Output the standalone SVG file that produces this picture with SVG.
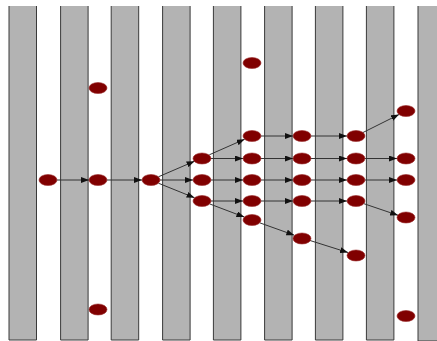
<svg xmlns="http://www.w3.org/2000/svg" width="437" height="341" viewBox="0 0 437 341">
<defs>
<style>
.stripe{fill:#b3b3b3;stroke:#3a3a3a;stroke-width:1}
.node{fill:#800000;stroke:#9a2a2a;stroke-width:0.6}
.edge{stroke:#333;stroke-width:1;fill:none;marker-end:url(#arr)}
</style>
<marker id="arr" markerUnits="userSpaceOnUse" markerWidth="8" markerHeight="6" refX="8" refY="3" orient="auto">
<path d="M0,0 L8,3 L0,6 z" fill="#111"/>
</marker>
</defs>
<rect width="437" height="341" fill="#fff"/>
<g id="stripes">
<path class="stripe" d="M9,6 V340 H36.5 V6"/>
<path class="stripe" d="M60.6,6 V340 H88.1 V6"/>
<path class="stripe" d="M111.2,6 V340 H138.7 V6"/>
<path class="stripe" d="M162.6,6 V340 H190.1 V6"/>
<path class="stripe" d="M213.4,6 V340 H240.9 V6"/>
<path class="stripe" d="M264.6,6 V340 H292.1 V6"/>
<path class="stripe" d="M315.4,6 V340 H342.9 V6"/>
<path class="stripe" d="M366.4,6 V340 H393.9 V6"/>
<path class="stripe" d="M418,6 V341 H446 V6"/>
</g>
<g id="connectors">
<line class="edge" x1="57" y1="180" x2="89" y2="180"/>
<line class="edge" x1="107" y1="180" x2="142" y2="180"/>
<line class="edge" x1="160" y1="180" x2="193" y2="180"/>
<line class="edge" x1="158.4" y1="176.8" x2="194.6" y2="161.2"/>
<line class="edge" x1="158.4" y1="183.2" x2="194.6" y2="197.8"/>
<line class="edge" x1="209.3" y1="154.8" x2="244.7" y2="139.2"/>
<line class="edge" x1="211" y1="158.5" x2="243" y2="158.5"/>
<line class="edge" x1="211" y1="180" x2="243" y2="180"/>
<line class="edge" x1="211" y1="201" x2="243" y2="201"/>
<line class="edge" x1="209.6" y1="203.9" x2="244.4" y2="217.1"/>
<line class="edge" x1="261" y1="136" x2="293" y2="136"/>
<line class="edge" x1="261" y1="158.5" x2="293" y2="158.5"/>
<line class="edge" x1="261" y1="180" x2="293" y2="180"/>
<line class="edge" x1="261" y1="201" x2="293" y2="201"/>
<line class="edge" x1="259.7" y1="222.8" x2="294.3" y2="235.2"/>
<line class="edge" x1="311" y1="136" x2="347" y2="136"/>
<line class="edge" x1="311" y1="158.5" x2="347" y2="158.5"/>
<line class="edge" x1="311" y1="180" x2="347" y2="180"/>
<line class="edge" x1="311" y1="201" x2="347" y2="201"/>
<line class="edge" x1="310" y1="240.5" x2="348" y2="252.5"/>
<line class="edge" x1="363" y1="132.5" x2="399" y2="114.5"/>
<line class="edge" x1="365" y1="158.5" x2="397" y2="158.5"/>
<line class="edge" x1="365" y1="180" x2="397" y2="180"/>
<line class="edge" x1="363.9" y1="203.7" x2="398.1" y2="215.3"/>
</g>
<g id="nodes">
<g id="n1"><ellipse class="node" cx="48" cy="180" rx="9" ry="5.5"/></g>
<g id="n2"><ellipse class="node" cx="98" cy="88" rx="9" ry="5.5"/></g>
<g id="n3"><ellipse class="node" cx="98" cy="180" rx="9" ry="5.5"/></g>
<g id="n4"><ellipse class="node" cx="98" cy="309.5" rx="9" ry="5.5"/></g>
<g id="n5"><ellipse class="node" cx="151" cy="180" rx="9" ry="5.5"/></g>
<g id="n6"><ellipse class="node" cx="202" cy="158.5" rx="9" ry="5.5"/></g>
<g id="n7"><ellipse class="node" cx="202" cy="180" rx="9" ry="5.5"/></g>
<g id="n8"><ellipse class="node" cx="202" cy="201" rx="9" ry="5.5"/></g>
<g id="n9"><ellipse class="node" cx="252" cy="63" rx="9" ry="5.5"/></g>
<g id="n10"><ellipse class="node" cx="252" cy="136" rx="9" ry="5.5"/></g>
<g id="n11"><ellipse class="node" cx="252" cy="158.5" rx="9" ry="5.5"/></g>
<g id="n12"><ellipse class="node" cx="252" cy="180" rx="9" ry="5.5"/></g>
<g id="n13"><ellipse class="node" cx="252" cy="201" rx="9" ry="5.5"/></g>
<g id="n14"><ellipse class="node" cx="252" cy="220" rx="9" ry="5.5"/></g>
<g id="n15"><ellipse class="node" cx="302" cy="136" rx="9" ry="5.5"/></g>
<g id="n16"><ellipse class="node" cx="302" cy="158.5" rx="9" ry="5.5"/></g>
<g id="n17"><ellipse class="node" cx="302" cy="180" rx="9" ry="5.5"/></g>
<g id="n18"><ellipse class="node" cx="302" cy="201" rx="9" ry="5.5"/></g>
<g id="n19"><ellipse class="node" cx="302" cy="238.5" rx="9" ry="5.5"/></g>
<g id="n20"><ellipse class="node" cx="356" cy="136" rx="9" ry="5.5"/></g>
<g id="n21"><ellipse class="node" cx="356" cy="158.5" rx="9" ry="5.5"/></g>
<g id="n22"><ellipse class="node" cx="356" cy="180" rx="9" ry="5.5"/></g>
<g id="n23"><ellipse class="node" cx="356" cy="201" rx="9" ry="5.5"/></g>
<g id="n24"><ellipse class="node" cx="356" cy="255.5" rx="9" ry="5.5"/></g>
<g id="n25"><ellipse class="node" cx="406" cy="111" rx="9" ry="5.5"/></g>
<g id="n26"><ellipse class="node" cx="406" cy="158.5" rx="9" ry="5.5"/></g>
<g id="n27"><ellipse class="node" cx="406" cy="180" rx="9" ry="5.5"/></g>
<g id="n28"><ellipse class="node" cx="406" cy="217.5" rx="9" ry="5.5"/></g>
<g id="n29"><ellipse class="node" cx="406" cy="316" rx="9" ry="5.5"/></g>
</g>
</svg>
